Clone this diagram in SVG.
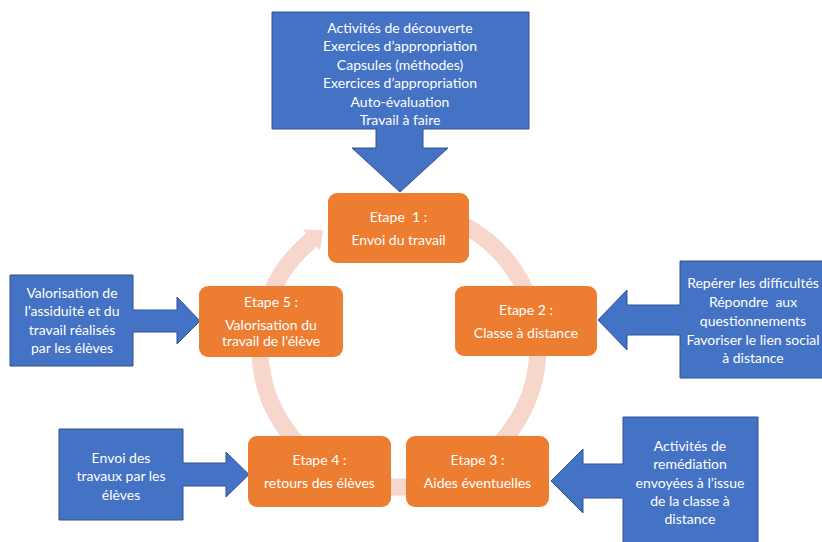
<svg xmlns="http://www.w3.org/2000/svg" width="822" height="542" viewBox="0 0 822 542">
<style>
.call{fill:#4472C4;stroke:#2F528F;stroke-width:1}
.step{fill:#ED7D31}
text{font-family:Lato,"Open Sans","Liberation Sans",sans-serif;font-size:14px;fill:#FFFFFF;text-anchor:middle;white-space:pre}
</style>
<rect width="822" height="542" fill="#FFFFFF"/>
<g id="cycle">
<path d="M335.9,224.2 A139,139 0 1 1 311.5,240" fill="none" stroke="#F7D6CB" stroke-width="17"/>
<polygon points="303,229.5 323.2,230.6 320,250.5" fill="#F7D6CB"/>
</g>
<g id="connectors">
<g id="callout-top"><path class="call" d="M272,12 H529 V129 H423 V148 H448 L400,192 L352,148 H376 V129 H272 Z"/>
<text x="400" y="32.5">Activités de découverte</text>
<text x="400" y="51">Exercices d’appropriation</text>
<text x="400" y="69.5">Capsules (méthodes)</text>
<text x="400" y="88">Exercices d’appropriation</text>
<text x="400" y="106.5">Auto-évaluation</text>
<text x="400" y="125">Travail à faire</text></g>
<g id="callout-right"><path class="call" d="M680,261 H830 V378 H680 V335 H627 V350 L598,320 L627,290 V305 H680 Z"/>
<text x="753" y="288">Repérer les difficultés</text>
<text x="753" y="307">Répondre  aux</text>
<text x="753" y="326">questionnements</text>
<text x="753" y="345">Favoriser le lien social</text>
<text x="753" y="363">à distance</text></g>
<g id="callout-left"><path class="call" d="M10,275 H133 V310 H177 V297 L200,321 L177,344 V332 H133 V366 H10 Z"/>
<text x="72" y="297.5">Valorisation de</text>
<text x="72" y="316">l’assiduité et du</text>
<text x="72" y="334.5">travail réalisés</text>
<text x="72" y="353">par les élèves</text></g>
<g id="callout-bottom-left"><path class="call" d="M59,429 H183 V463 H226 V452 L249,474.5 L226,497 V486 H183 V520 H59 Z"/>
<text x="121" y="462.5">Envoi des</text>
<text x="121" y="481">travaux par les</text>
<text x="121" y="499.5">élèves</text></g>
<g id="callout-bottom-right"><path class="call" d="M623,417 H758 V550 H623 V498 H583 V513 L551,481 L583,449 V464 H623 Z"/>
<text x="690" y="450.5">Activités de</text>
<text x="690" y="469">remédiation</text>
<text x="690" y="487.5">envoyées à l’issue</text>
<text x="690" y="506">de la classe à</text>
<text x="690" y="524">distance</text></g>
</g>
<g id="etape1"><rect class="step" x="328" y="193" width="141" height="70" rx="9"/>
<text x="398.5" y="221.5">Etape  1 :</text>
<text x="398.5" y="244.5">Envoi du travail</text></g>
<g id="etape2"><rect class="step" x="455" y="286" width="142" height="70" rx="9"/>
<text x="526" y="314.5">Etape 2 :</text>
<text x="526" y="337.5">Classe à distance</text></g>
<g id="etape3"><rect class="step" x="406" y="436" width="143" height="71" rx="9"/>
<text x="477.5" y="464.5">Etape 3 :</text>
<text x="477.5" y="487.5">Aides éventuelles</text></g>
<g id="etape4"><rect class="step" x="248" y="436" width="143" height="71" rx="9"/>
<text x="319.5" y="464.5">Etape 4 :</text>
<text x="319.5" y="487.5">retours des élèves</text></g>
<g id="etape5"><rect class="step" x="199" y="286" width="144" height="71" rx="9"/>
<text x="271" y="306.5">Etape 5 :</text>
<text x="271" y="329.5">Valorisation du</text>
<text x="271" y="345.5">travail de l'élève</text></g>
</svg>
